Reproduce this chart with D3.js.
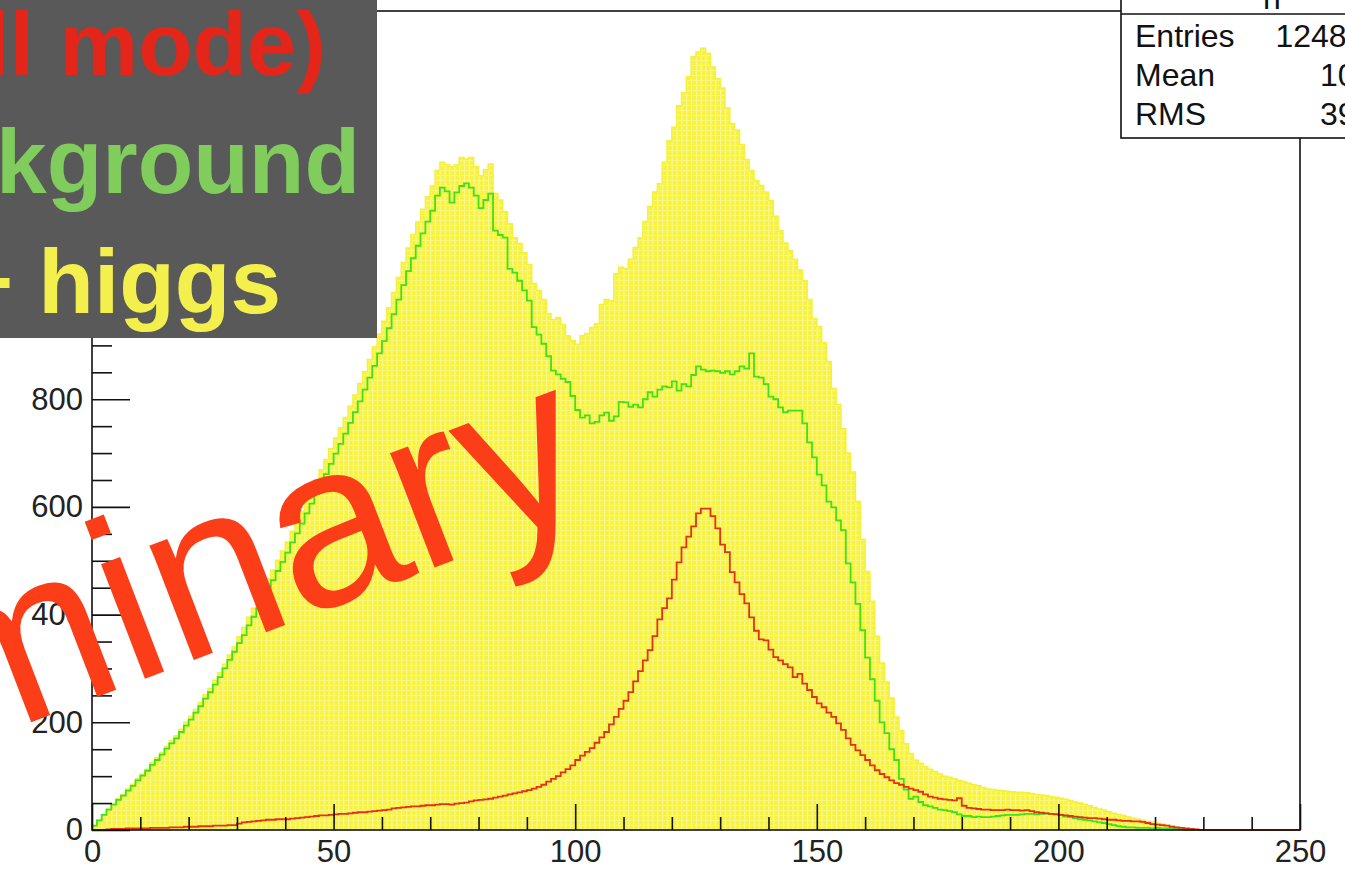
<!doctype html>
<html lang="en">
<head>
<meta charset="utf-8">
<title>Higgs histogram</title>
<script src="https://cdn.jsdelivr.net/npm/d3@7"></script>
<style>
  html, body { margin: 0; padding: 0; background: #fff; overflow: hidden; }
  svg { display: block; }
  text { font-family: "Liberation Sans", Arial, sans-serif; }
  .axis text { font-size: 31px; fill: #222; }
  .axis line { stroke: #111; stroke-width: 1.6; }
  .axis .domain { display: none; }
</style>
</head>
<body>
<svg id="chart" width="1345" height="878"></svg>
<script>
// bin contents, one value per unit bin starting at 0 (0..249)
const background = [
  8, 18, 28, 38, 47, 56, 64, 73, 82, 92,
  101, 110, 121, 130, 140, 151, 161, 170, 182, 194,
  205, 218, 230, 244, 256, 270, 284, 300, 316, 331,
  347, 362, 380, 396, 412, 430, 447, 464, 481, 498,
  515, 534, 551, 569, 588, 606, 624, 642, 661, 680,
  699, 717, 736, 756, 776, 796, 818, 840, 862, 885,
  908, 932, 958, 985, 1012, 1038, 1062, 1085, 1108, 1130,
  1150, 1178, 1193, 1186, 1165, 1184, 1196, 1201, 1193, 1178,
  1155, 1170, 1182, 1113, 1105, 1100, 1042, 1035, 1020, 1002,
  983, 934, 920, 903, 880, 853, 846, 838, 832, 806,
  780, 766, 770, 755, 758, 770, 775, 760, 768, 795,
  794, 786, 790, 785, 800, 813, 805, 818, 824, 822,
  833, 816, 828, 824, 845, 861, 855, 852, 853, 852,
  849, 852, 846, 852, 861, 857, 885, 842, 840, 828,
  805, 800, 785, 776, 779, 779, 779, 755, 720, 692,
  660, 640, 610, 599, 575, 557, 495, 460, 420, 371,
  320, 280, 240, 200, 180, 150, 130, 95, 75, 58,
  62, 52, 46, 44, 41, 38, 37, 35, 33, 29,
  26, 26, 24, 25, 24, 24, 25, 26, 27, 28,
  28, 28, 29, 30, 30, 29, 30, 31, 30, 30,
  28, 25, 24, 22, 20, 19, 18, 16, 14, 13,
  11, 9, 7, 6, 5, 5, 4, 4, 4, 3,
  4, 3, 3, 2, 2, 1, 0, 0, 0, 0,
  0, 0, 0, 0, 0, 0, 0, 0, 0, 0,
  0, 0, 0, 0, 0, 0, 0, 0, 0, 0
];

const higgs = [
  0, 0, 0, 1, 2, 2, 2, 3, 3, 3,
  3, 3, 4, 4, 4, 4, 5, 5, 5, 6,
  6, 6, 7, 7, 7, 8, 8, 8, 9, 9,
  12, 14, 15, 16, 17, 18, 19, 19, 20, 20,
  20, 21, 22, 23, 24, 25, 26, 27, 27, 28,
  29, 30, 30, 31, 32, 33, 33, 34, 35, 36,
  37, 38, 40, 41, 42, 43, 44, 44, 45, 46,
  46, 47, 48, 48, 47, 49, 50, 51, 53, 55,
  56, 57, 58, 60, 62, 64, 66, 68, 70, 72,
  74, 77, 80, 84, 90, 95, 100, 107, 113, 120,
  130, 138, 145, 152, 162, 172, 182, 196, 210, 225,
  240, 256, 276, 295, 315, 334, 360, 391, 412, 430,
  465, 497, 525, 545, 564, 588, 597, 597, 583, 560,
  530, 516, 479, 460, 438, 421, 395, 370, 354, 352,
  335, 321, 315, 308, 302, 284, 290, 272, 260, 247,
  235, 228, 218, 210, 198, 186, 170, 158, 148, 139,
  130, 120, 111, 104, 98, 92, 87, 84, 80, 77,
  74, 71, 66, 62, 60, 58, 57, 56, 55, 59,
  45, 41, 40, 39, 38, 38, 37, 37, 37, 38,
  37, 37, 36, 37, 35, 33, 32, 31, 30, 29,
  28, 27, 26, 25, 24, 23, 22, 22, 21, 20,
  19, 19, 18, 17, 17, 16, 16, 15, 13, 11,
  10, 9, 8, 6, 5, 4, 3, 2, 1, 0,
  0, 0, 0, 0, 0, 0, 0, 0, 0, 0,
  0, 0, 0, 0, 0, 0, 0, 0, 0, 0
];

const total = [
  8, 18, 28, 39, 49, 58, 66, 76, 85, 95,
  104, 113, 125, 134, 144, 155, 166, 175, 187, 200,
  211, 224, 237, 251, 263, 278, 292, 308, 325, 340,
  359, 376, 395, 412, 429, 448, 466, 483, 501, 518,
  535, 555, 573, 592, 612, 631, 650, 669, 688, 708,
  728, 747, 766, 787, 808, 829, 851, 874, 897, 921,
  945, 970, 998, 1026, 1054, 1081, 1106, 1129, 1153, 1176,
  1196, 1225, 1240, 1236, 1232, 1235, 1249, 1246, 1249, 1232,
  1215, 1226, 1237, 1182, 1170, 1148, 1126, 1100, 1089, 1072,
  1050, 1015, 1002, 985, 959, 948, 952, 939, 918, 909,
  902, 918, 922, 933, 940, 976, 985, 983, 1033, 1045,
  1043, 1060, 1082, 1100, 1130, 1158, 1185, 1200, 1240, 1280,
  1305, 1345, 1369, 1399, 1436, 1445, 1452, 1442, 1417, 1395,
  1378, 1341, 1312, 1300, 1273, 1245, 1225, 1206, 1197, 1185,
  1169, 1140, 1113, 1090, 1076, 1060, 1040, 1020, 985, 950,
  935, 905, 870, 820, 790, 745, 700, 665, 610, 540,
  480, 425, 360, 310, 275, 245, 210, 185, 160, 142,
  130, 124, 118, 113, 108, 104, 100, 98, 95, 92,
  90, 87, 84, 82, 79, 76, 75, 74, 73, 72,
  71, 70, 70, 69, 68, 66, 65, 64, 62, 61,
  59, 57, 55, 52, 50, 48, 45, 42, 39, 37,
  34, 31, 29, 27, 24, 22, 20, 18, 16, 15,
  13, 11, 9, 7, 5, 4, 3, 2, 1, 0,
  0, 0, 0, 0, 0, 0, 0, 0, 0, 0,
  0, 0, 0, 0, 0, 0, 0, 0, 0, 0
];

const xMajorTicks = [0, 50, 100, 150, 200, 250];
const yMajorTicks = [0, 200, 400, 600, 800, 1000, 1200, 1400];
const yLabelledTicks = [0, 200, 400, 600, 800]; // the rest sit under the legend box
const legendLines = ["Signal (all mode)", "Background", "Background + higgs"];
const statNames = ["Entries", "Mean", "RMS"];
const statValues = ["1248356", "104.6", "39.47"];

const svg = d3.select("#chart");
const frame = {left: 92, right: 1300, top: 11, bottom: 830};

const x = d3.scaleLinear().domain([0, 250]).range([frame.left, frame.right]);
const y = d3.scaleLinear().domain([0, 1521]).range([frame.bottom, frame.top]);

const defs = svg.append("defs");
const pat = defs.append("pattern")
  .attr("id", "yellowFill")
  .attr("patternUnits", "userSpaceOnUse")
  .attr("width", 4.832).attr("height", 5);
pat.append("rect").attr("width", 4.832).attr("height", 5).attr("fill", "#f7f33c");
pat.append("rect").attr("width", 1.2).attr("height", 5).attr("fill", "#faf898");
pat.append("rect").attr("width", 4.832).attr("height", 1).attr("fill", "#f9f67e");

// step outline for a histogram
function stepPoints(vals) {
  const pts = vals.map((v, i) => [i, v]);
  pts.push([vals.length, vals[vals.length - 1]]);
  return pts;
}
const stepLine = d3.line()
  .x(d => x(d[0]))
  .y(d => y(d[1]))
  .curve(d3.curveStepAfter);
const stepArea = d3.area()
  .x(d => x(d[0]))
  .y0(y(0))
  .y1(d => y(d[1]))
  .curve(d3.curveStepAfter);

const plot = svg.append("g");

plot.append("path")
  .attr("d", stepArea(stepPoints(total)))
  .attr("fill", "url(#yellowFill)");
plot.append("path")
  .attr("d", stepLine(stepPoints(total)))
  .attr("fill", "none")
  .attr("stroke", "#f4f03c")
  .attr("stroke-width", 1.5);

plot.append("path")
  .attr("d", stepLine(stepPoints(background)))
  .attr("fill", "none")
  .attr("stroke", "#3fe01c")
  .attr("stroke-width", 1.8);

plot.append("path")
  .attr("d", stepLine(stepPoints(higgs)))
  .attr("fill", "none")
  .attr("stroke", "#e3301a")
  .attr("stroke-width", 1.8);

// axes: ROOT style, ticks pointing inside the frame
const xMinor = d3.range(0, 251, 10).filter(v => v % 50 !== 0);
const yMinor = d3.range(0, 1521, 50).filter(v => v % 200 !== 0);

svg.append("g").attr("class", "axis")
  .attr("transform", `translate(0,${frame.bottom})`)
  .call(d3.axisBottom(x).tickValues(xMinor).tickSize(-13).tickSizeOuter(0).tickFormat(""));
svg.append("g").attr("class", "axis")
  .attr("transform", `translate(0,${frame.bottom})`)
  .call(d3.axisBottom(x).tickValues(xMajorTicks).tickSize(-26).tickSizeOuter(0).tickPadding(10));

svg.append("g").attr("class", "axis")
  .attr("transform", `translate(${frame.left},0)`)
  .call(d3.axisLeft(y).tickValues(yMinor).tickSize(-20).tickSizeOuter(0).tickFormat(""));
svg.append("g").attr("class", "axis")
  .attr("transform", `translate(${frame.left},0)`)
  .call(d3.axisLeft(y).tickValues(yMajorTicks).tickSize(-38).tickSizeOuter(0).tickPadding(9)
    .tickFormat(v => yLabelledTicks.includes(v) ? v : ""));

svg.append("rect")
  .attr("x", frame.left).attr("y", frame.top)
  .attr("width", frame.right - frame.left)
  .attr("height", frame.bottom - frame.top)
  .attr("fill", "none")
  .attr("stroke", "#111")
  .attr("stroke-width", 1.6);

// "Preliminary" watermark
svg.append("text")
  .attr("transform", "translate(600,504) rotate(-21)")
  .attr("text-anchor", "end")
  .attr("font-size", 232)
  .attr("fill", "#fb3d18")
  .text("Preliminary");

// legend box, cut by the page edge
const legend = svg.append("g");
legend.append("rect")
  .attr("x", -10).attr("y", -10)
  .attr("width", 387).attr("height", 348)
  .attr("fill", "#595959");
const legendColors = ["#e4261a", "#80cc5c", "#f3ef4c"];
const legendRight = [326, 360, 281];
const legendBase = [75, 193, 313];
const legendSize = [89, 91, 91];
legend.selectAll("text.leg")
  .data(legendLines)
  .join("text")
  .attr("class", "leg")
  .attr("x", (d, i) => legendRight[i])
  .attr("y", (d, i) => legendBase[i])
  .attr("text-anchor", "end")
  .attr("font-size", (d, i) => legendSize[i])
  .attr("font-weight", "bold")
  .attr("fill", (d, i) => legendColors[i])
  .text(d => d);

// stats box
const stats = svg.append("g");
stats.append("rect")
  .attr("x", 1121).attr("y", -20)
  .attr("width", 300).attr("height", 158)
  .attr("fill", "#fff")
  .attr("stroke", "#111")
  .attr("stroke-width", 1.6);
stats.append("line")
  .attr("x1", 1121).attr("x2", 1421)
  .attr("y1", 14).attr("y2", 14)
  .attr("stroke", "#111")
  .attr("stroke-width", 1.6);
stats.append("text")
  .attr("x", 1272).attr("y", 9)
  .attr("text-anchor", "middle")
  .attr("font-size", 32)
  .attr("fill", "#111")
  .text("h");
stats.selectAll("text.sn")
  .data(statNames)
  .join("text")
  .attr("class", "sn")
  .attr("x", 1135)
  .attr("y", (d, i) => 47 + i * 39)
  .attr("font-size", 32)
  .attr("fill", "#111")
  .text(d => d);
stats.selectAll("text.sv")
  .data(statValues)
  .join("text")
  .attr("class", "sv")
  .attr("x", 1400)
  .attr("y", (d, i) => 47 + i * 39)
  .attr("text-anchor", "end")
  .attr("font-size", 32)
  .attr("fill", "#111")
  .text(d => d);
</script>
</body>
</html>
